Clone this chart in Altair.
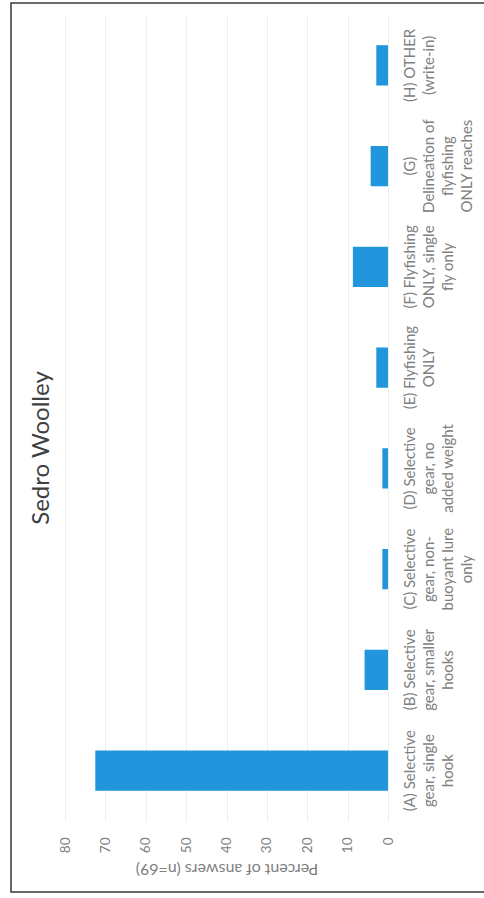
import altair as alt
import pandas as pd

FONT = "Lato"

# data
cat_labels = [
    "(A) Selective|gear, single|hook",
    "(B) Selective|gear, smaller|hooks",
    "(C) Selective|gear, non-|buoyant lure|only",
    "(D) Selective|gear, no|added weight",
    "(E) Flyfishing|ONLY",
    "(F) Flyfishing|ONLY, single|fly only",
    "(G)|Delineation of|flyfishing|ONLY reaches",
    "(H) OTHER|(write-in)",
]
percents = [72.5, 5.8, 1.4, 1.4, 2.9, 8.7, 4.3, 2.9]
tick_values = [0, 10, 20, 30, 40, 50, 60, 70, 80]
chart_title = "Sedro Woolley"
axis_title = "Percent of answers (n=69)"

df = pd.DataFrame({"label": cat_labels, "pct": percents})
order_top_to_bottom = list(reversed(cat_labels))

PLOT_L, PLOT_T = 65, 15
PLOT_W, PLOT_H = 323, 806
TOTAL_W, TOTAL_H = 484, 895

bars = alt.Chart(df).mark_bar(color="#2196DC").encode(
    x=alt.X(
        "pct:Q",
        scale=alt.Scale(domain=[0, 80], reverse=True, nice=False, zero=True),
        axis=alt.Axis(
            orient="bottom",
            values=tick_values,
            labelAngle=270,
            labelAlign="right",
            labelBaseline="middle",
            labelPadding=16,
            ticks=False,
            domain=False,
            grid=True,
            gridColor="#eeeeee",
            gridWidth=1,
            labelFont=FONT,
            labelFontSize=13.5,
            labelColor="#808080",
            title=axis_title,
            titleAngle=180,
            titleBaseline="bottom",
            titleAlign="center",
            titlePadding=8,
            titleFont=FONT,
            titleFontSize=16,
            titleFontWeight="normal",
            titleColor="#808080",
        ),
    ),
    y=alt.Y(
        "label:N",
        sort=order_top_to_bottom,
        scale=alt.Scale(paddingInner=0.6, paddingOuter=0.3),
        axis=alt.Axis(
            orient="right",
            labelAngle=270,
            labelAlign="center",
            labelBaseline="top",
            labelPadding=14,
            labelExpr="split(datum.label, '|')",
            labelLineHeight=19,
            labelFont=FONT,
            labelFontSize=15,
            labelColor="#808080",
            labelOverlap=False,
            labelLimit=0,
            ticks=False,
            domain=False,
            grid=False,
            title=None,
        ),
    ),
)

title_df = pd.DataFrame({"t": [chart_title]})
title_mark = alt.Chart(title_df).mark_text(
    angle=270, font=FONT, fontSize=24, color="#404040", align="center", baseline="middle"
).encode(
    text="t:N",
    x=alt.value(42 - PLOT_L),
    y=alt.value(448 - PLOT_T),
)

frame_df = pd.DataFrame({"f": [1]})
frame = alt.Chart(frame_df).mark_rect(
    fillOpacity=0, stroke="#3a3a3a", strokeWidth=1.5
).encode(
    x=alt.value(11 - PLOT_L),
    x2=alt.value(TOTAL_W + 20 - PLOT_L),
    y=alt.value(3 - PLOT_T),
    y2=alt.value(892 - PLOT_T),
)

chart = alt.layer(frame, bars, title_mark).properties(
    width=PLOT_W,
    height=PLOT_H,
    autosize=alt.AutoSizeParams(type="none"),
    padding={"left": PLOT_L, "top": PLOT_T, "right": TOTAL_W - PLOT_L - PLOT_W, "bottom": TOTAL_H - PLOT_T - PLOT_H},
    background="white",
).configure_view(stroke=None)

chart.save("out.html", embed_options={"renderer": "svg", "actions": False})
